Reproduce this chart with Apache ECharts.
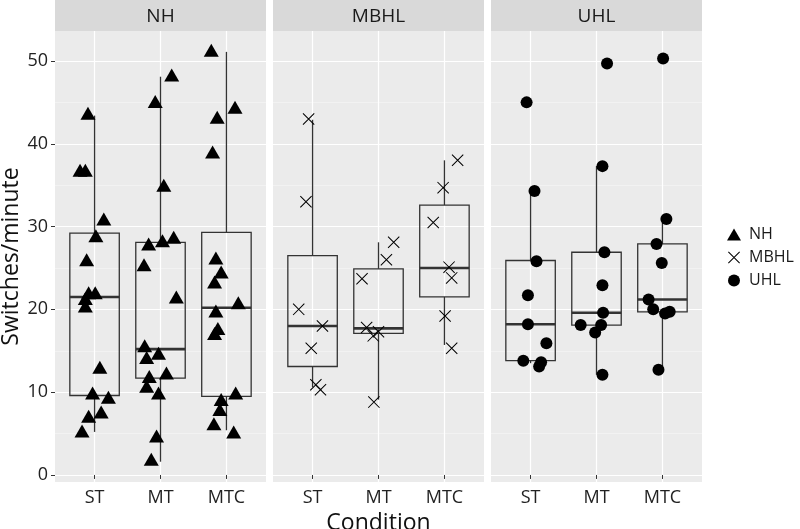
<!DOCTYPE html>
<html>
<head>
<meta charset="utf-8">
<script src="https://cdn.jsdelivr.net/npm/echarts@6/dist/echarts.min.js"></script>
<style>
  html, body { margin: 0; padding: 0; background: #fff; }
  #chart { width: 800px; height: 529px; }
</style>
</head>
<body>
<div id="chart"></div>
<script>
// Categorías y grupos
const categories = ['ST', 'MT', 'MTC'];
const groups = ['NH', 'MBHL', 'UHL'];
const yTicks = [0, 10, 20, 30, 40, 50];
const yMinorTicks = [5, 15, 25, 35, 45];

// Puntos: [valor, desplazamiento horizontal (jitter) en unidades de categoría]
const nhST = [[43.7, -0.10], [36.8, -0.22], [36.8, -0.14], [30.9, 0.14], [28.9, 0.02], [26.0, -0.12],
    [22.0, -0.09], [22.0, 0.01], [21.3, -0.14], [20.4, -0.14], [13.0, 0.08], [9.9, -0.03],
    [9.4, 0.21], [7.6, 0.10], [7.1, -0.09], [5.3, -0.19]];
const nhMT = [[48.3, 0.17], [45.1, -0.08], [35.0, 0.05], [28.7, 0.20], [28.3, 0.03], [27.9, -0.18],
    [25.4, -0.25], [21.5, 0.24], [15.6, -0.24], [14.7, -0.03], [14.2, -0.21], [12.3, 0.09],
    [11.9, -0.17], [10.7, -0.21], [9.9, -0.03], [4.7, -0.06], [1.9, -0.14]];
const nhMTC = [[51.3, -0.23], [44.4, 0.13], [43.2, -0.14], [39.0, -0.21], [26.2, -0.16], [24.5, -0.08],
    [23.3, -0.18], [20.8, 0.18], [19.8, -0.16], [17.7, -0.13], [17.1, -0.18], [9.9, 0.14],
    [9.1, -0.08], [7.9, -0.10], [6.2, -0.19], [5.2, 0.11]];

const mbhlST = [[43.0, -0.06], [33.0, -0.10], [20.0, -0.21], [18.0, 0.15], [15.3, -0.02], [10.9, 0.05], [10.3, 0.12]];
const mbhlMT = [[28.1, 0.23], [26.0, 0.12], [23.7, -0.25], [17.8, -0.18], [17.3, 0.00], [16.8, -0.08], [8.8, -0.07]];
const mbhlMTC = [[38.0, 0.20], [34.7, -0.02], [30.5, -0.17], [25.1, 0.07], [23.8, 0.11], [19.2, 0.01], [15.3, 0.11]];

const uhlST = [[45.0, -0.06], [34.3, 0.06], [25.8, 0.09], [21.7, -0.04], [18.2, -0.04], [15.9, 0.24],
    [13.8, -0.11], [13.6, 0.16], [13.1, 0.13]];
const uhlMT = [[49.7, 0.16], [37.3, 0.09], [26.9, 0.12], [22.9, 0.09], [19.6, 0.10], [18.1, -0.24],
    [18.1, 0.07], [17.2, -0.02], [12.1, 0.09]];
const uhlMTC = [[50.3, 0.01], [30.9, 0.06], [27.9, -0.09], [25.6, -0.01], [21.2, -0.21], [20.0, -0.14],
    [19.7, 0.11], [19.5, 0.04], [12.7, -0.06]];

// Cajas: [mín, Q1, mediana, Q3, máx] por condición
const nhBox = [[5.2, 9.6, 21.5, 29.2, 43.4], [1.6, 11.7, 15.2, 28.1, 48.1], [5.4, 9.5, 20.2, 29.3, 51.1]];
const mbhlBox = [[10.6, 13.1, 18.0, 26.5, 42.9], [9.1, 17.1, 17.7, 24.9, 28.1], [15.7, 21.5, 25.0, 32.6, 38.0]];
const uhlBox = [[13.5, 13.8, 18.2, 25.9, 34.3], [12.1, 18.1, 19.6, 26.9, 37.3], [12.7, 19.7, 21.2, 27.9, 30.9]];

const FONT = '"Open Sans", sans-serif';
const panelLeft = [55, 273, 491];
const panelWidth = 211;
const panelTop = 31;
const panelHeight = 451;
const yMin = -0.85, yMax = 53.62;

// Convertir listas de puntos a [x, y]
function toPoints(lists) {
    const out = [];
    lists.forEach(function (list, ci) {
        list.forEach(function (p) {
            out.push([ci + 1 + p[1], p[0]]);
        });
    });
    return out;
}

function toBoxes(stats) {
    return stats.map(function (s, i) { return [i + 1].concat(s); });
}

// Dibujo de caja estilo ggplot (sin remates en los bigotes)
function renderBox(params, api) {
    const x = api.value(0);
    const pMin = api.coord([x, api.value(1)]);
    const pQ1 = api.coord([x, api.value(2)]);
    const pMed = api.coord([x, api.value(3)]);
    const pQ3 = api.coord([x, api.value(4)]);
    const pMax = api.coord([x, api.value(5)]);
    const half = api.size([0.75, 0])[0] / 2;
    const line = { stroke: '#333', lineWidth: 1.3 };
    return {
        type: 'group',
        children: [
            { type: 'line', shape: { x1: pMax[0], y1: pMax[1], x2: pQ3[0], y2: pQ3[1] }, style: line },
            { type: 'line', shape: { x1: pQ1[0], y1: pQ1[1], x2: pMin[0], y2: pMin[1] }, style: line },
            { type: 'rect', shape: { x: pQ3[0] - half, y: pQ3[1], width: half * 2, height: pQ1[1] - pQ3[1] },
              style: { fill: 'none', stroke: '#333', lineWidth: 1.3 } },
            { type: 'line', shape: { x1: pMed[0] - half, y1: pMed[1], x2: pMed[0] + half, y2: pMed[1] },
              style: { stroke: '#333', lineWidth: 2.6 } }
        ]
    };
}

const crossPath = 'path://M0,6L6,0L100,94L94,100ZM94,0L100,6L6,100L0,94Z';

const grids = panelLeft.map(function (l) {
    return { left: l, top: panelTop, width: panelWidth, height: panelHeight, show: true,
             backgroundColor: '#EBEBEB', borderWidth: 0, containLabel: false, outerBoundsMode: 'none' };
});

const xAxes = groups.map(function (g, i) {
    const ax = {
        type: 'value', gridIndex: i, min: 0.4, max: 3.6,
        axisLine: { show: false },
        axisTick: { show: true, customValues: [1, 2, 3], length: 4, lineStyle: { color: '#333', width: 1 } },
        axisLabel: { customValues: [1, 2, 3], formatter: function (v) { return categories[Math.round(v) - 1]; },
                     margin: 7, fontSize: 18, color: '#222', fontFamily: FONT },
        splitLine: { show: true, lineStyle: { color: '#fff', width: 1.2 } }
    };
    if (i === 1) {
        ax.name = 'Condition';
        ax.nameLocation = 'middle';
        ax.nameGap = 26;
        ax.nameTextStyle = { fontSize: 23, color: '#111', fontFamily: FONT };
    }
    return ax;
});

const yAxes = [];
groups.forEach(function (g, i) {
    const ax = {
        type: 'value', gridIndex: i, min: yMin, max: yMax,
        axisLine: { show: false },
        axisTick: { show: i === 0, customValues: yTicks, length: 4, lineStyle: { color: '#333', width: 1 } },
        axisLabel: { show: i === 0, customValues: yTicks, margin: 7, fontSize: 18, color: '#222', fontFamily: FONT },
        splitLine: { show: true, lineStyle: { color: '#fff', width: 1.2 } }
    };
    if (i === 0) {
        ax.name = 'Switches/minute';
        ax.nameLocation = 'middle';
        ax.nameGap = 32;
        ax.nameTextStyle = { fontSize: 23, color: '#111', fontFamily: FONT };
    }
    yAxes.push(ax);
});
// Líneas menores
groups.forEach(function (g, i) {
    yAxes.push({
        type: 'value', gridIndex: i, min: yMin, max: yMax, position: 'left',
        axisLine: { show: false },
        axisTick: { show: false, customValues: yMinorTicks },
        axisLabel: { show: false, customValues: yMinorTicks },
        splitLine: { show: true, lineStyle: { color: '#F6F6F6', width: 0.6 } }
    });
});

const boxSeries = [nhBox, mbhlBox, uhlBox].map(function (stats, i) {
    return {
        type: 'custom', name: groups[i] + ' box', xAxisIndex: i, yAxisIndex: i, silent: true, z: 1,
        renderItem: renderBox, encode: { x: 0, y: [1, 2, 3, 4, 5] }, data: toBoxes(stats)
    };
});

const pointSeries = [
    { name: 'NH', type: 'scatter', xAxisIndex: 0, yAxisIndex: 0, symbol: 'triangle', symbolSize: [15, 13],
      data: toPoints([nhST, nhMT, nhMTC]) },
    { name: 'MBHL', type: 'scatter', xAxisIndex: 1, yAxisIndex: 1, symbol: crossPath, symbolSize: 12,
      data: toPoints([mbhlST, mbhlMT, mbhlMTC]) },
    { name: 'UHL', type: 'scatter', xAxisIndex: 2, yAxisIndex: 2, symbol: 'circle', symbolSize: 12,
      data: toPoints([uhlST, uhlMT, uhlMTC]) }
];
pointSeries.forEach(function (s) {
    s.z = 3;
    s.silent = true;
    s.itemStyle = { color: '#000', opacity: 1 };
});

// Cabeceras de faceta
const strips = groups.map(function (g, i) {
    return {
        type: 'group', left: panelLeft[i], top: 0,
        children: [
            { type: 'rect', shape: { x: 0, y: 0, width: panelWidth, height: panelTop }, style: { fill: '#D9D9D9' } },
            { type: 'text', x: panelWidth / 2, y: panelTop / 2 + 1,
              style: { text: g, fill: '#1a1a1a', fontSize: 19, fontFamily: FONT, align: 'center', verticalAlign: 'middle' } }
        ]
    };
});

const chart = echarts.init(document.getElementById('chart'));
chart.setOption({
    animation: false,
    backgroundColor: '#fff',
    grid: grids,
    xAxis: xAxes,
    yAxis: yAxes,
    legend: {
        data: groups, orient: 'vertical', left: 727, top: 226, padding: 0,
        itemWidth: 14, itemHeight: 12, itemGap: 6,
        textStyle: { fontSize: 16, color: '#1a1a1a', fontFamily: FONT, lineHeight: 17, padding: [0, 0, 0, 3] },
        selectedMode: false
    },
    graphic: strips,
    series: boxSeries.concat(pointSeries)
});
</script>
</body>
</html>
